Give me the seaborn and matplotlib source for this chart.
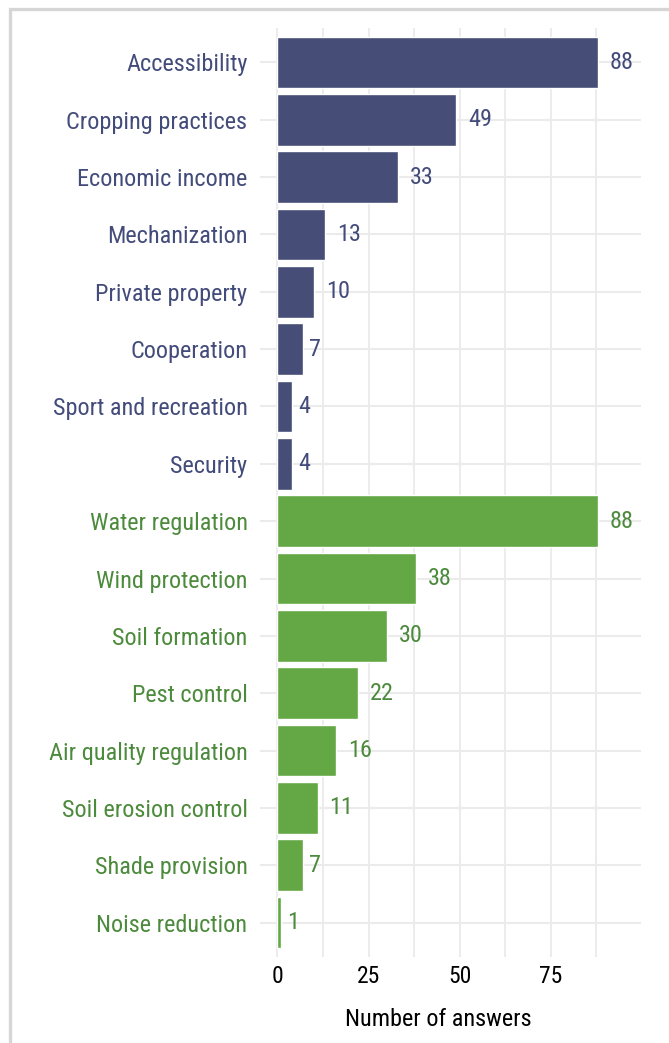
import matplotlib
matplotlib.use("Agg")
import matplotlib.pyplot as plt
from matplotlib import font_manager
from matplotlib.patches import Rectangle
import seaborn as sns
import pandas as pd

categories = ["Accessibility", "Cropping practices", "Economic income", "Mechanization",
              "Private property", "Cooperation", "Sport and recreation", "Security",
              "Water regulation", "Wind protection", "Soil formation", "Pest control",
              "Air quality regulation", "Soil erosion control", "Shade provision", "Noise reduction"]
values = [88, 49, 33, 13, 10, 7, 4, 4, 88, 38, 30, 22, 16, 11, 7, 1]
groups = ["Social"] * 8 + ["Environmental"] * 8
x_ticks = [0, 25, 50, 75]
x_title = "Number of answers"

bar_colors = {"Social": "#464D76", "Environmental": "#63A845"}
text_colors = {"Social": "#434B7A", "Environmental": "#4C8A3C"}

avail = {f.name for f in font_manager.fontManager.ttflist}
fam = "DejaVu Sans"
for cand in ["Roboto Condensed", "Liberation Sans Narrow", "Open Sans Condensed", "Noto Sans"]:
    if cand in avail:
        fam = cand
        break

sns.set_theme(style="white")
plt.rcParams["font.family"] = [fam, "DejaVu Sans"]

df = pd.DataFrame({"category": categories, "value": values, "group": groups})

fig = plt.figure(figsize=(6.69, 10.43), dpi=100)
ax = fig.add_axes([260 / 669, 1 - 957 / 1043, (641 - 260) / 669, (957 - 28) / 1043])

sns.barplot(data=df, y="category", x="value", hue="group", palette=bar_colors,
            dodge=False, width=0.9, orient="h", ax=ax, legend=False, saturation=1)

ax.set_xlim(-4.8, 99.8)
ax.set_ylim(len(categories) - 0.4, -0.6)

# grid
for v in [0, 12.5, 25, 37.5, 50, 62.5, 75, 87.5]:
    ax.axvline(v, color="#EBEBEB", lw=1.3, zorder=0)
for i in range(len(categories)):
    ax.axhline(i, color="#EBEBEB", lw=1.5, zorder=0)
for s in ax.spines.values():
    s.set_visible(False)

ax.set_xticks(x_ticks)
ax.set_xticklabels([str(t) for t in x_ticks], fontsize=17, color="black")
ax.tick_params(axis="x", length=0, pad=6)
ax.tick_params(axis="y", length=0, pad=9)
ax.set_ylabel("")
ax.set_xlabel(x_title, fontsize=17.5, color="black")
ax.xaxis.set_label_coords(0.467, -0.055)

for lab, g in zip(ax.get_yticklabels(), groups):
    lab.set_color(text_colors[g])
    lab.set_fontsize(17.5)

for i, (v, g) in enumerate(zip(values, groups)):
    s = str(v)
    off = 6.0 * len(s)
    ax.annotate(s, (v, i), xytext=(off * 0.72, 0), textcoords="offset points",
                ha="left", va="center", fontsize=17.5, color=text_colors[g])

# outer frame (partially cropped)
fig.patches.append(Rectangle((9.5 / 669, -0.1), 1.2, 1.1 - 9.5 / 1043,
                             transform=fig.transFigure, fill=False,
                             edgecolor="#D6D6D6", lw=2.4))

fig.savefig("out.png", dpi=100)
